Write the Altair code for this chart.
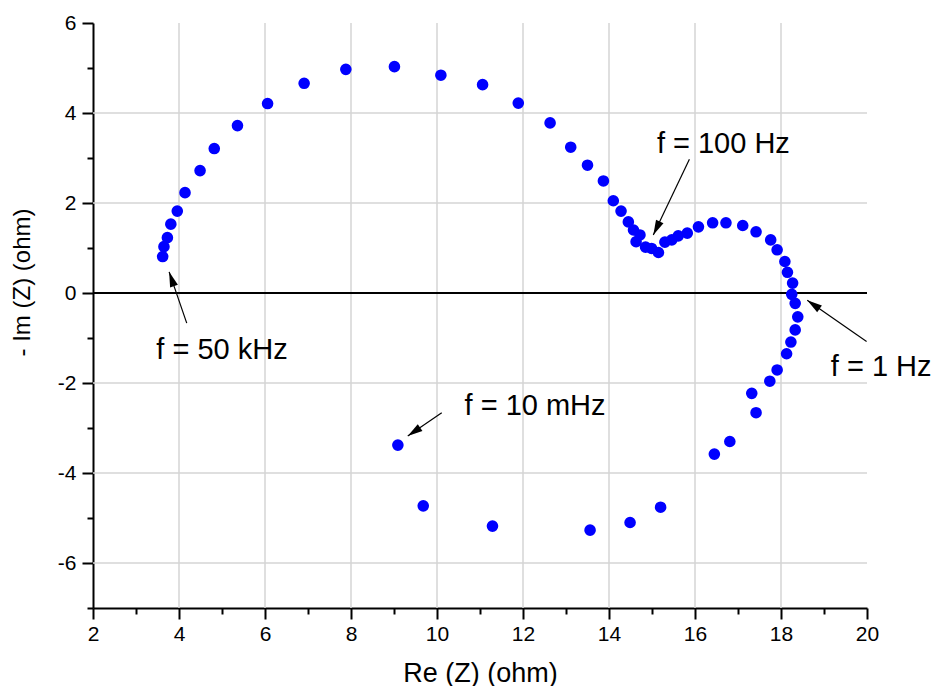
import math
import altair as alt
import pandas as pd

# ---- data ----
re_z = [3.62, 3.65, 3.73, 3.81, 3.96, 4.14, 4.49, 4.82, 5.36, 6.06, 6.91, 7.88, 9.01, 10.09,
        11.06, 11.89, 12.63, 13.11, 13.50, 13.87, 14.10, 14.28, 14.45, 14.57, 14.72, 14.63,
        14.85, 14.99, 15.15, 15.30, 15.46, 15.61, 15.82, 16.08, 16.41, 16.72, 17.11, 17.42,
        17.76, 17.91, 18.09, 18.15, 18.27, 18.25, 18.33, 18.39, 18.33, 18.23, 18.13, 17.91,
        17.74, 17.32, 17.42, 16.81, 16.45, 15.20, 14.49, 13.56, 11.29, 9.68, 9.09]
neg_im_z = [0.81, 1.03, 1.23, 1.53, 1.82, 2.23, 2.72, 3.21, 3.72, 4.21, 4.66, 4.97, 5.03, 4.84,
            4.63, 4.22, 3.78, 3.24, 2.84, 2.49, 2.05, 1.82, 1.58, 1.40, 1.29, 1.14,
            1.02, 0.99, 0.90, 1.13, 1.18, 1.27, 1.33, 1.47, 1.56, 1.56, 1.50, 1.36,
            1.18, 0.96, 0.70, 0.46, 0.22, -0.03, -0.23, -0.53, -0.82, -1.09, -1.35, -1.71,
            -1.96, -2.23, -2.66, -3.30, -3.58, -4.76, -5.10, -5.27, -5.18, -4.73, -3.38]

ann_text = ["f = 50 kHz", "f = 100 Hz", "f = 1 Hz", "f = 10 mHz"]
ann_x = [5.0, 16.66, 20.33, 12.28]
ann_y = [-1.47, 3.12, -1.84, -2.71]
arrow_tail_x = [4.18, 15.87, 19.99, 10.11]
arrow_tail_y = [-0.67, 2.97, -1.08, -2.66]
arrow_head_x = [3.77, 15.03, 18.61, 9.32]
arrow_head_y = [0.47, 1.29, -0.16, -3.18]

x_major = [2, 4, 6, 8, 10, 12, 14, 16, 18, 20]
x_minor = [3, 5, 7, 9, 11, 13, 15, 17, 19]
y_major = [-6, -4, -2, 0, 2, 4, 6]
y_minor = [-7, -5, -3, -1, 1, 3, 5]
x_grid = [4, 6, 8, 10, 12, 14, 16, 18]
y_grid = [-6, -4, -2, 2, 4]
zero_line = [0]

# ---- layout ----
W, H = 774, 585
X_DOM = [2, 20]
Y_DOM = [-7, 6]
FONT = "Liberation Sans"
GRID = "#d4d4d4"

xs = alt.Scale(domain=X_DOM, nice=False, zero=False)
ys = alt.Scale(domain=Y_DOM, nice=False, zero=False)

px_x = W / (X_DOM[1] - X_DOM[0])
px_y = H / (Y_DOM[1] - Y_DOM[0])
angles = []
for x1, y1, x2, y2 in zip(arrow_tail_x, arrow_tail_y, arrow_head_x, arrow_head_y):
    dx = (x2 - x1) * px_x
    dy = -(y2 - y1) * px_y
    angles.append(math.degrees(math.atan2(dx, -dy)) % 360)

pts = pd.DataFrame({"re": re_z, "im": neg_im_z})
arrows = pd.DataFrame({"x1": arrow_tail_x, "y1": arrow_tail_y,
                       "x2": arrow_head_x, "y2": arrow_head_y, "ang": angles})
labels = pd.DataFrame({"x": ann_x, "y": ann_y, "t": ann_text})

LABEL_EXPR = "'' + datum.value"

major_x_axis = alt.Axis(values=x_major, orient="bottom", tickSize=11, tickWidth=2,
                        tickColor="black", domainColor="black", domainWidth=2,
                        labelFont=FONT, labelFontSize=21, labelColor="black",
                        labelPadding=4, labelFlush=False, labelOverlap=False,
                        labelExpr=LABEL_EXPR,
                        grid=False, title="Re (Z) (ohm)", titleFont=FONT, titleFontSize=27,
                        titleFontWeight="normal", titleColor="black", titleY=73,
                        titleBaseline="alphabetic")
minor_x_axis = alt.Axis(values=x_minor, orient="bottom", tickSize=6, tickWidth=2,
                        tickColor="black", domain=False, labels=False, grid=False)
major_y_axis = alt.Axis(values=y_major, orient="left", tickSize=11, tickWidth=2,
                        tickColor="black", domainColor="black", domainWidth=2,
                        labelFont=FONT, labelFontSize=21, labelColor="black",
                        labelPadding=6, labelFlush=False, labelOverlap=False,
                        labelExpr=LABEL_EXPR,
                        grid=False, title="- Im (Z) (ohm)", titleFont=FONT, titleFontSize=24,
                        titleFontWeight="normal", titleColor="black", titleAngle=270,
                        titleX=-64, titleY=259, titleAlign="center",
                        titleBaseline="alphabetic")
minor_y_axis = alt.Axis(values=y_minor, orient="left", tickSize=6, tickWidth=2,
                        tickColor="black", domain=False, labels=False, grid=False)

grid_v = alt.Chart(pd.DataFrame({"g": x_grid})).mark_rule(color=GRID, strokeWidth=1.5).encode(
    x=alt.X("g:Q", scale=xs, axis=None))
grid_h = alt.Chart(pd.DataFrame({"g": y_grid})).mark_rule(color=GRID, strokeWidth=1.5).encode(
    y=alt.Y("g:Q", scale=ys, axis=None))
zero = alt.Chart(pd.DataFrame({"z": zero_line})).mark_rule(color="black", strokeWidth=2).encode(
    y=alt.Y("z:Q", scale=ys, axis=None))

points = alt.Chart(pts).mark_circle(color="#0000ff", opacity=1, size=135).encode(
    x=alt.X("re:Q", scale=xs, axis=minor_x_axis, title=None),
    y=alt.Y("im:Q", scale=ys, axis=minor_y_axis, title=None))

shafts = alt.Chart(arrows).mark_rule(color="black", strokeWidth=1.2).encode(
    x=alt.X("x1:Q", scale=xs, axis=major_x_axis),
    y=alt.Y("y1:Q", scale=ys, axis=major_y_axis),
    x2="x2:Q", y2="y2:Q")

heads = alt.Chart(arrows).mark_point(shape="M0,0L-0.55,2L0.55,2Z", filled=True, color="black",
                                     opacity=1, size=225, strokeWidth=0).encode(
    x=alt.X("x2:Q", scale=xs, axis=None),
    y=alt.Y("y2:Q", scale=ys, axis=None),
    angle=alt.Angle("ang:Q", scale=None))

texts = alt.Chart(labels).mark_text(font=FONT, fontSize=29, align="center",
                                    baseline="alphabetic", color="black").encode(
    x=alt.X("x:Q", scale=xs, axis=None),
    y=alt.Y("y:Q", scale=ys, axis=None),
    text="t:N")

chart = alt.layer(grid_v, grid_h, zero, points, shafts, heads, texts).resolve_axis(
    x="independent", y="independent"
).properties(
    width=W, height=H,
    autosize=alt.AutoSizeParams(type="none"),
    padding={"left": 85, "top": 15, "right": 69, "bottom": 78},
    background="white",
).configure_view(strokeWidth=0)

chart.save("out.html", embed_options={"renderer": "svg", "actions": False})
